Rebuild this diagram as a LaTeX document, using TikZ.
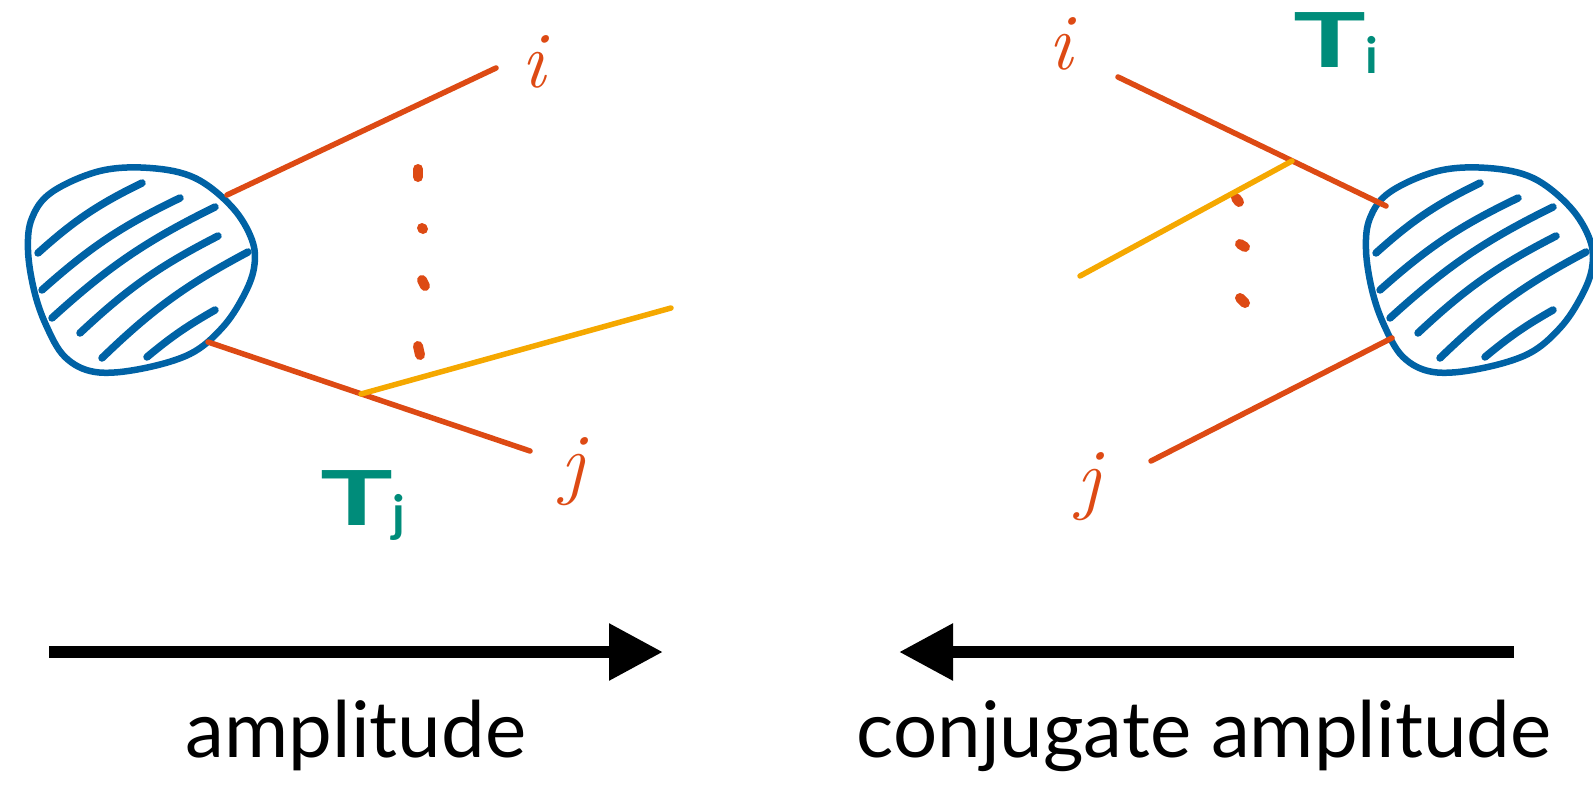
\documentclass[tikz,border=0pt]{standalone}
\usepackage{fontspec}
\usetikzlibrary{arrows.meta}
\newfontfamily\lato{Lato}
\definecolor{rd}{RGB}{221,74,20}
\definecolor{bl}{RGB}{0,98,165}
\definecolor{yl}{RGB}{245,168,0}
\definecolor{tl}{RGB}{0,140,122}
\tikzset{
  blobline/.style={draw=bl, line width=6.5pt, line join=round},
  hatch/.style={draw=bl, line width=7.5pt, line cap=round},
  redline/.style={draw=rd, line width=5.5pt, line cap=round},
  yelline/.style={draw=yl, line width=5.5pt, line cap=round},
  dotmark/.style={draw=rd, line width=10pt, line cap=round},
  hand/.style={text=rd, font=\fontsize{80}{90}\selectfont\itshape, inner sep=0pt},
  tlabel/.style={text=tl, font=\lato\bfseries\fontsize{76}{80}\selectfont, inner sep=0pt},
  caption/.style={font=\lato\fontsize{78}{86}\selectfont, inner sep=0pt},
  bigarrow/.style={draw=black, line width=12pt, -{Triangle[length=54pt,width=54pt]}},
  blob/.pic={
    \draw[blobline] plot[smooth cycle, tension=0.6] coordinates {(100,171) (150,168) (195,178) (232,207) (252,240) (254,268) (243,297) (222,328) (190,354) (140,369) (95,372) (65,357) (46,325) (34,290) (28,250) (32,218) (52,192)};
    \draw[hatch] (38,253) to[bend left=8] (142,183);
    \draw[hatch] (42,290) to[bend left=8] (180,198);
    \draw[hatch] (52,318) to[bend left=8] (215,207);
    \draw[hatch] (80,333) to[bend left=8] (218,236);
    \draw[hatch] (102,358) to[bend left=8] (248,252);
    \draw[hatch] (147,357) to[bend left=5] (215,310);
  }
}
\newcommand{\subl}[1]{\kern-1pt\raisebox{-6pt}{\fontsize{50}{55}\selectfont #1}}
\begin{document}
\begin{tikzpicture}[x=1pt,y=-1pt]
\useasboundingbox (0,0) rectangle (1593,787);

% ---------- left: amplitude ----------
\pic (lb) at (0,0) {blob};
\coordinate (La1) at (227,195);
\coordinate (La2) at (496,68);
\coordinate (Lb1) at (208,342);
\coordinate (Lb2) at (530,451);
\coordinate (Ly1) at (361,394);
\coordinate (Ly2) at (671,308);
\draw[redline] (La1) -- (La2);
\draw[redline] (Lb1) -- (Lb2);
\draw[yelline] (Ly1) -- (Ly2);
\draw[dotmark] (418,169) -- (418,177);
\draw[dotmark] (422,228) -- (423,229);
\draw[dotmark] (422,280) -- (425,286);
\draw[dotmark] (418,346) -- (420,355);
\node[hand] (li) at (533,62) {i};
\node[hand] (lj) at (572,472) {j};
\node[tlabel, anchor=base west] (Tj) at (320,525) {\scalebox{1.6}[1]{T}\subl{j}};

% ---------- right: conjugate amplitude ----------
\pic (rb) at (1338,0) {blob};
\coordinate (Ra1) at (1118,77);
\coordinate (Ra2) at (1386,206);
\coordinate (Rb1) at (1392,338);
\coordinate (Rb2) at (1151,461);
\coordinate (Ry1) at (1080,276);
\coordinate (Ry2) at (1292,161);
\draw[redline] (Ra1) -- (Ra2);
\draw[redline] (Rb1) -- (Rb2);
\draw[dotmark] (1236,198) -- (1239,202);
\draw[dotmark] (1240,244) -- (1245,247);
\draw[dotmark] (1240,298) -- (1245,303);
\draw[yelline] (Ry1) -- (Ry2);
\node[hand] (ri) at (1060,44) {i};
\node[hand] (rj) at (1088,487) {j};
\node[tlabel, anchor=base west] (Ti) at (1293,67) {\scalebox{1.6}[1]{T}\subl{i}};

% ---------- arrows and captions ----------
\coordinate (A1) at (49,652);
\coordinate (A2) at (663,652);
\coordinate (B1) at (1514,652);
\coordinate (B2) at (899,652);
\draw[bigarrow] (A1) -- (A2);
\draw[bigarrow] (B1) -- (B2);
\node[caption, anchor=base] (amp) at (356,757) {amplitude};
\node[caption, anchor=base] (conj) at (1204,757) {conjugate amplitude};
\end{tikzpicture}
\end{document}
